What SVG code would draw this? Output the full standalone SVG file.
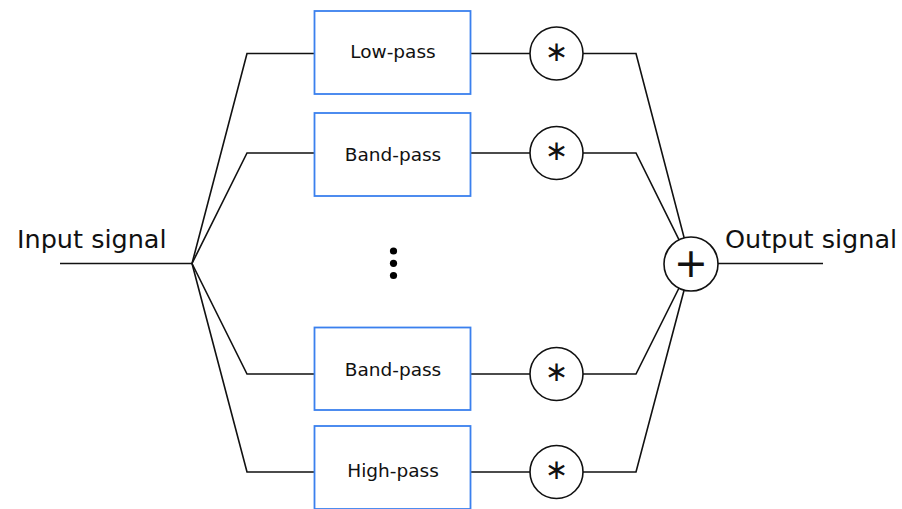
<svg xmlns="http://www.w3.org/2000/svg" width="902" height="509" viewBox="0 0 902 509">
<style>
.wire{fill:none;stroke:#111;stroke-width:1.6}
.box{fill:#fff;stroke:#3a80ee;stroke-width:1.8}
.op{fill:#fff;stroke:#111;stroke-width:1.6}
.lbl{font-family:"DejaVu Sans",sans-serif;font-size:18.5px;fill:#111;text-anchor:middle}
.big{font-family:"DejaVu Sans",sans-serif;font-size:25.5px;fill:#111}
.sym{font-family:"DejaVu Sans",sans-serif;fill:#111;text-anchor:middle;dominant-baseline:central}
.ast{font-size:28px}
</style>
<rect width="902" height="509" fill="#fff"/>
<g id="connectors">
<path class="wire" d="M60,263.5H192"/>
<path class="wire" d="M192,263.5L247,53.5H314"/>
<path class="wire" d="M192,263.5L247,153H314"/>
<path class="wire" d="M192,263.5L247,374H314"/>
<path class="wire" d="M192,263.5L247,472H314"/>
<path class="wire" d="M470,53.5H530M583,53.5H636L691,264"/>
<path class="wire" d="M470,153H530M583,153H636L691,264"/>
<path class="wire" d="M470,374H530M583,374H636L691,264"/>
<path class="wire" d="M470,472H530M583,472H636L691,264"/>
<path class="wire" d="M718,263.5H823"/>
</g>
<g id="input-label"><text class="big" x="17" y="248">Input signal</text></g>
<g id="output-label"><text class="big" x="725" y="248">Output signal</text></g>
<g id="lowpass"><rect class="box" x="314.5" y="11" width="156" height="83"/><text class="lbl" x="393" y="58">Low-pass</text></g>
<g id="bandpass1"><rect class="box" x="314.5" y="113" width="156" height="83"/><text class="lbl" x="393" y="161">Band-pass</text></g>
<g id="ellipsis"><circle cx="393.5" cy="251" r="3.6" fill="#000"/><circle cx="393.5" cy="263.3" r="3.6" fill="#000"/><circle cx="393.5" cy="275.5" r="3.6" fill="#000"/></g>
<g id="bandpass2"><rect class="box" x="314.5" y="327.5" width="156" height="82.5"/><text class="lbl" x="393" y="376">Band-pass</text></g>
<g id="highpass"><rect class="box" x="314.5" y="426" width="156" height="83"/><text class="lbl" x="393" y="477">High-pass</text></g>
<g id="mult1"><circle class="op" cx="556.5" cy="53.5" r="26.5"/><text class="sym ast" x="556.5" y="51">∗</text></g>
<g id="mult2"><circle class="op" cx="556.5" cy="153" r="26.5"/><text class="sym ast" x="556.5" y="150.5">∗</text></g>
<g id="mult3"><circle class="op" cx="556.5" cy="374" r="26.5"/><text class="sym ast" x="556.5" y="371.5">∗</text></g>
<g id="mult4"><circle class="op" cx="556.5" cy="472" r="26.5"/><text class="sym ast" x="556.5" y="469.5">∗</text></g>
<g id="sum"><circle class="op" cx="691" cy="264" r="27"/><text class="sym" x="691" y="263" font-size="41">+</text></g>
</svg>
